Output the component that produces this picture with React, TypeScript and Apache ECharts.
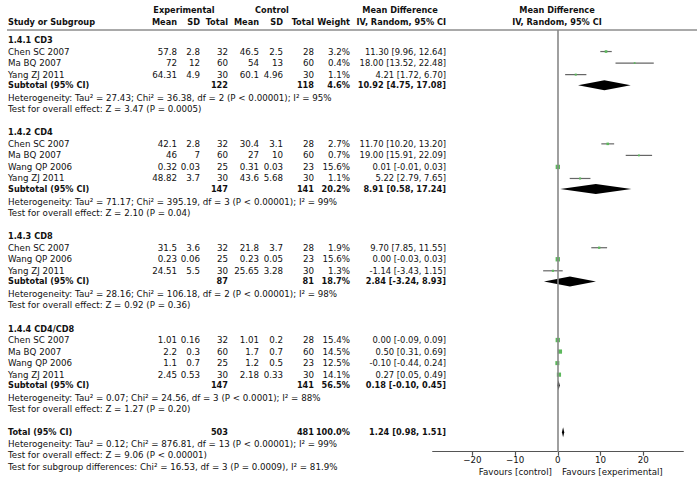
import React, { useEffect, useRef } from "react";
import * as echarts from "echarts";

// ---------------- data ----------------
const subgroupNames = ["1.4.1 CD3", "1.4.2 CD4", "1.4.3 CD8", "1.4.4 CD4/CD8"];
const studyNames = [
  ["Chen SC 2007", "Ma BQ 2007", "Yang ZJ 2011"],
  ["Chen SC 2007", "Ma BQ 2007", "Wang QP 2006", "Yang ZJ 2011"],
  ["Chen SC 2007", "Wang QP 2006", "Yang ZJ 2011"],
  ["Chen SC 2007", "Ma BQ 2007", "Wang QP 2006", "Yang ZJ 2011"],
];
const expMean = [[57.8, 72, 64.31], [42.1, 46, 0.32, 48.82], [31.5, 0.23, 24.51], [1.01, 2.2, 1.1, 2.45]];
const expSD = [[2.8, 12, 4.9], [2.8, 7, 0.03, 3.7], [3.6, 0.06, 5.5], [0.16, 0.3, 0.7, 0.53]];
const expN = [[32, 60, 30], [32, 60, 25, 30], [32, 25, 30], [32, 60, 25, 30]];
const ctlMean = [[46.5, 54, 60.1], [30.4, 27, 0.31, 43.6], [21.8, 0.23, 25.65], [1.01, 1.7, 1.2, 2.18]];
const ctlSD = [[2.5, 13, 4.96], [3.1, 10, 0.03, 5.68], [3.7, 0.05, 3.28], [0.2, 0.7, 0.5, 0.33]];
const ctlN = [[28, 60, 30], [28, 60, 23, 30], [28, 23, 30], [28, 60, 23, 30]];
const weights = [[3.2, 0.4, 1.1], [2.7, 0.7, 15.6, 1.1], [1.9, 15.6, 1.3], [15.4, 14.5, 12.5, 14.1]];
const mdValues = [[11.3, 18.0, 4.21], [11.7, 19.0, 0.01, 5.22], [9.7, 0.0, -1.14], [0.0, 0.5, -0.1, 0.27]];
const ciLow = [[9.96, 13.52, 1.72], [10.2, 15.91, -0.01, 2.79], [7.85, -0.03, -3.43], [-0.09, 0.31, -0.44, 0.05]];
const ciHigh = [[12.64, 22.48, 6.7], [13.2, 22.09, 0.03, 7.65], [11.55, 0.03, 1.15], [0.09, 0.69, 0.24, 0.49]];

const subExpN = [122, 147, 87, 147];
const subCtlN = [118, 141, 81, 141];
const subWeight = [4.6, 20.2, 18.7, 56.5];
const subMD = [10.92, 8.91, 2.84, 0.18];
const subLow = [4.75, 0.58, -3.24, -0.1];
const subHigh = [17.08, 17.24, 8.93, 0.45];
const subTau2 = [27.43, 71.17, 28.16, 0.07];
const subChi2 = [36.38, 395.19, 106.18, 24.56];
const subDf = [2, 3, 2, 3];
const subHetP = ["< 0.00001", "< 0.00001", "< 0.00001", "< 0.0001"];
const subI2 = [95, 99, 98, 88];
const subZ = [3.47, 2.1, 0.92, 1.27];
const subZP = ["= 0.0005", "= 0.04", "= 0.36", "= 0.20"];

const totalExpN = 503;
const totalCtlN = 481;
const totalWeight = 100.0;
const totalMD = [1.24, 0.98, 1.51];
const totalTau2 = 0.12;
const totalChi2 = 876.81;
const totalDf = 13;
const totalHetP = "< 0.00001";
const totalI2 = 99;
const totalZ = 9.06;
const totalZP = "< 0.00001";
const diffChi2 = 16.53;
const diffDf = 3;
const diffP = "= 0.0009";
const diffI2 = 81.9;

const axisTicks = [-20, -10, 0, 10, 20];
const axisMin = -29.3;
const axisMax = 29.4;

// ---------------- layout ----------------
const W = 698;
const H = 490;
const ROW0 = 40;
const ROWH = 11.54;
const FONT = '"DejaVu Sans", Verdana, sans-serif';
const FS = 8.7;
const FS_NUM = 8.4;
const FSB = 8.2;
const HDR1 = (10 - ROW0) / ROWH;
const HDR2 = (22 - ROW0) / ROWH;
const COL = { name: 8, eMean: 177, eSD: 200, eN: 228, cMean: 259, cSD: 283, cN: 314, w: 350, ci: 446 };
const PLOT = { left: 432.7, right: 683.3, top: 30, bottom: 451.7 };

type TItem = { x: number; row: number; text: string; align: string; bold: boolean; size: number };

function fmtCI(m: number, l: number, h: number) {
  return `${m.toFixed(2)} [${l.toFixed(2)}, ${h.toFixed(2)}]`;
}

function buildRows() {
  const texts: TItem[] = [];
  const studyPts: number[][] = [];
  const diamonds: number[][] = [];
  const t = (x: number, row: number, text: string, align = "right", bold = false, size = 0) =>
    texts.push({ x, row, text, align, bold, size: size || (bold ? FSB : FS) });

  t(184, HDR1, "Experimental", "center", true);
  t(272, HDR1, "Control", "center", true);
  t(400, HDR1, "Mean Difference", "center", true);
  t(557, HDR1, "Mean Difference", "center", true);
  t(COL.name, HDR2, "Study or Subgroup", "left", true);
  t(COL.eMean, HDR2, "Mean", "right", true);
  t(COL.eSD, HDR2, "SD", "right", true);
  t(COL.eN, HDR2, "Total", "right", true);
  t(COL.cMean, HDR2, "Mean", "right", true);
  t(COL.cSD, HDR2, "SD", "right", true);
  t(COL.cN, HDR2, "Total", "right", true);
  t(COL.w, HDR2, "Weight", "right", true);
  t(COL.ci, HDR2, "IV, Random, 95% CI", "right", true);
  t(557, HDR2, "IV, Random, 95% CI", "center", true);

  let r = 0;
  subgroupNames.forEach((g, gi) => {
    t(COL.name, r, g, "left", true);
    r++;
    studyNames[gi].forEach((s, si) => {
      t(COL.name, r, s, "left");
      t(COL.eMean, r, String(expMean[gi][si]));
      t(COL.eSD, r, String(expSD[gi][si]));
      t(COL.eN, r, String(expN[gi][si]));
      t(COL.cMean, r, String(ctlMean[gi][si]));
      t(COL.cSD, r, String(ctlSD[gi][si]));
      t(COL.cN, r, String(ctlN[gi][si]));
      t(COL.w, r, `${weights[gi][si].toFixed(1)}%`);
      t(COL.ci, r, fmtCI(mdValues[gi][si], ciLow[gi][si], ciHigh[gi][si]), "right", false, FS_NUM);
      studyPts.push([mdValues[gi][si], r, ciLow[gi][si], ciHigh[gi][si], weights[gi][si]]);
      r++;
    });
    const sr = r - 0.08;
    t(COL.name, sr, "Subtotal (95% CI)", "left", true);
    t(COL.eN, sr, String(subExpN[gi]), "right", true);
    t(COL.cN, sr, String(subCtlN[gi]), "right", true);
    t(COL.w, sr, `${subWeight[gi].toFixed(1)}%`, "right", true);
    t(COL.ci, sr, fmtCI(subMD[gi], subLow[gi], subHigh[gi]), "right", true);
    diamonds.push([subMD[gi], sr, subLow[gi], subHigh[gi]]);
    t(
      COL.name,
      r + 1,
      `Heterogeneity: Tau² = ${subTau2[gi].toFixed(2)}; Chi² = ${subChi2[gi].toFixed(2)}, df = ${subDf[gi]} (P ${subHetP[gi]}); I² = ${subI2[gi]}%`,
      "left"
    );
    t(COL.name, r + 2, `Test for overall effect: Z = ${subZ[gi].toFixed(2)} (P ${subZP[gi]})`, "left");
    r += 4;
  });

  t(COL.name, r, "Total (95% CI)", "left", true);
  t(COL.eN, r, String(totalExpN), "right", true);
  t(COL.cN, r, String(totalCtlN), "right", true);
  t(COL.w, r, `${totalWeight.toFixed(1)}%`, "right", true);
  t(COL.ci, r, fmtCI(totalMD[0], totalMD[1], totalMD[2]), "right", true);
  diamonds.push([totalMD[0], r, totalMD[1], totalMD[2]]);
  t(
    COL.name,
    r + 1,
    `Heterogeneity: Tau² = ${totalTau2.toFixed(2)}; Chi² = ${totalChi2.toFixed(2)}, df = ${totalDf} (P ${totalHetP}); I² = ${totalI2}%`,
    "left"
  );
  t(COL.name, r + 2, `Test for overall effect: Z = ${totalZ.toFixed(2)} (P ${totalZP})`, "left");
  t(
    COL.name,
    r + 3,
    `Test for subgroup differences: Chi² = ${diffChi2.toFixed(2)}, df = ${diffDf} (P ${diffP}), I² = ${diffI2.toFixed(1)}%`,
    "left"
  );
  return { texts, studyPts, diamonds };
}

export default function App() {
  const ref = useRef<HTMLDivElement>(null);
  useEffect(() => {
    if (!ref.current) return;
    const chart = echarts.init(ref.current, undefined, { renderer: "svg", width: W, height: H });
    const { texts, studyPts, diamonds } = buildRows();

    const option: any = {
      animation: false,
      backgroundColor: "#ffffff",
      grid: [
        { left: PLOT.left, width: PLOT.right - PLOT.left, top: PLOT.top, height: PLOT.bottom - PLOT.top },
        { left: 0, top: 0, width: W, height: H },
      ],
      xAxis: [
        {
          type: "value",
          gridIndex: 0,
          min: axisMin,
          max: axisMax,
          position: "bottom",
          splitLine: { show: false },
          axisLine: { show: true, onZero: false, lineStyle: { color: "#555", width: 1.2 } },
          axisTick: { show: true, customValues: axisTicks, length: 4, lineStyle: { color: "#555", width: 1.2 } },
          axisLabel: {
            show: true,
            customValues: axisTicks,
            margin: 4,
            color: "#111",
            fontFamily: FONT,
            fontSize: FS,
            formatter: (v: number) => (v < 0 ? "\u2212" + Math.abs(v) : String(v)),
          },
        },
        { type: "value", gridIndex: 1, min: 0, max: W, show: false },
      ],
      yAxis: [
        {
          type: "value",
          gridIndex: 0,
          inverse: true,
          min: (PLOT.top - ROW0) / ROWH,
          max: (PLOT.bottom - ROW0) / ROWH,
          show: false,
        },
        { type: "value", gridIndex: 1, inverse: true, min: -ROW0 / ROWH, max: (H - ROW0) / ROWH, show: false },
      ],
      graphic: [
        {
          type: "line",
          shape: { x1: 7, y1: PLOT.top, x2: 697, y2: PLOT.top },
          style: { stroke: "#555", lineWidth: 1 },
          silent: true,
        },
        {
          type: "text",
          x: 552,
          y: 472,
          style: { text: "Favours [control]", fill: "#111", fontFamily: FONT, fontSize: FS, align: "right", verticalAlign: "middle" },
        },
        {
          type: "text",
          x: 562,
          y: 472,
          style: { text: "Favours [experimental]", fill: "#111", fontFamily: FONT, fontSize: FS, align: "left", verticalAlign: "middle" },
        },
      ],
      series: [
        {
          type: "custom",
          name: "table",
          xAxisIndex: 1,
          yAxisIndex: 1,
          clip: false,
          silent: true,
          data: texts.map((d) => [d.x, d.row]),
          renderItem: (params: any, api: any) => {
            const d = texts[params.dataIndex];
            const p = api.coord([api.value(0), api.value(1)]);
            return {
              type: "text",
              x: p[0],
              y: p[1],
              style: {
                text: d.text,
                fill: "#111",
                fontFamily: FONT,
                fontSize: d.size,
                fontWeight: d.bold ? "bold" : "normal",
                align: d.align,
                verticalAlign: "middle",
              },
            };
          },
        },
        {
          type: "custom",
          name: "ci",
          xAxisIndex: 0,
          yAxisIndex: 0,
          clip: false,
          silent: true,
          data: studyPts.map((d) => [d[0], d[1], d[2], d[3]]),
          renderItem: (params: any, api: any) => {
            const a = api.coord([api.value(2), api.value(1)]);
            const b = api.coord([api.value(3), api.value(1)]);
            return {
              type: "line",
              shape: { x1: a[0], y1: a[1], x2: b[0], y2: b[1] },
              style: { stroke: "#666", lineWidth: 1.2 },
            };
          },
        },
        {
          type: "scatter",
          name: "studies",
          xAxisIndex: 0,
          yAxisIndex: 0,
          silent: true,
          symbol: "rect",
          symbolSize: (v: number[]) => 1.2 + Math.sqrt(v[2]) * 0.8,
          itemStyle: { color: "#5cb85c", opacity: 1 },
          data: studyPts.map((d) => [d[0], d[1], d[4]]),
          markLine: {
            silent: true,
            symbol: ["none", "none"],
            label: { show: false },
            lineStyle: { color: "#888", width: 1.6, type: "solid" },
            data: [{ xAxis: 0 }],
          },
          z: 3,
        },
        {
          type: "custom",
          name: "diamonds",
          xAxisIndex: 0,
          yAxisIndex: 0,
          clip: false,
          silent: true,
          data: diamonds,
          renderItem: (params: any, api: any) => {
            const c = api.coord([api.value(0), api.value(1)]);
            const l = api.coord([api.value(2), api.value(1)]);
            const h = api.coord([api.value(3), api.value(1)]);
            return {
              type: "polygon",
              shape: {
                points: [
                  [l[0], c[1]],
                  [c[0], c[1] - 5],
                  [h[0], c[1]],
                  [c[0], c[1] + 5],
                ],
              },
              style: { fill: "#000" },
            };
          },
          z: 4,
        },
      ],
    };
    chart.setOption(option);
    return () => chart.dispose();
  }, []);
  return (
    <div
      ref={ref}
      style={{ position: "fixed", left: 0, top: 0, width: W, height: H, background: "#fff" }}
    />
  );
}
